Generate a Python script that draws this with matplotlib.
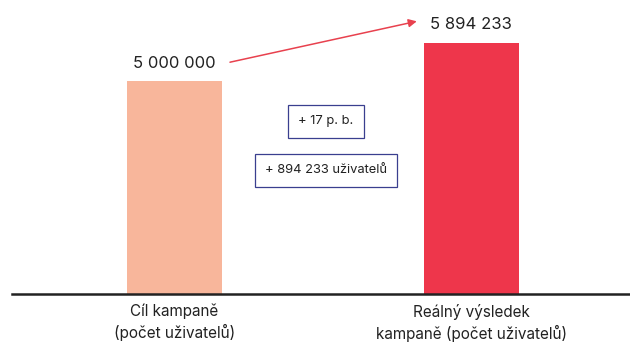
import matplotlib.pyplot as plt

categories = ['Cíl kampaně\n(počet uživatelů)', 'Reálný výsledek\nkampaně (počet uživatelů)']
values = [5000000, 5894233]
value_labels = ['5 000 000', '5 894 233']
diff_labels = ['+ 17 p. b.', '+ 894 233 uživatelů']
colors = ['#f8b69b', '#ee364b']

plt.rcParams['font.family'] = ['Inter', 'DejaVu Sans']

fig = plt.figure(figsize=(6.3, 3.43), dpi=100)
ax = fig.add_axes([12 / 630, 49 / 343, 618 / 630, 294 / 343])

x = [0, 1]
ax.bar(x, values, width=0.32, color=colors)
ax.set_xlim(-0.547, 1.534)
ax.set_ylim(0, 6.9e6)

for s in ['top', 'right', 'left']:
    ax.spines[s].set_visible(False)
ax.spines['bottom'].set_linewidth(1.8)
ax.spines['bottom'].set_color('#222222')
ax.set_yticks([])
ax.set_xticks(x)
ax.set_xticklabels(categories, fontsize=11, color='#222222', linespacing=1.35)
ax.tick_params(axis='x', length=0, pad=7)

# value labels above the bars
offsets = [0.4e6, 0.43e6]
for xi, v, lbl, off in zip(x, values, value_labels, offsets):
    ax.text(xi, v + off, lbl, ha='center', va='center', fontsize=12, color='#222222')

# arrow from goal label to the real result
ax.annotate('', xy=(0.816, 6.4e6), xytext=(0.187, 5.44e6),
            arrowprops=dict(arrowstyle='-|>', color='#e8414e', lw=1.1,
                            mutation_scale=12, shrinkA=0, shrinkB=0))

# difference boxes
box = dict(boxstyle='square,pad=0.8', fc='white', ec='#3a3f8f', lw=0.9)
ax.text(0.51, 4.05e6, diff_labels[0], ha='center', va='center', fontsize=9.3,
        color='#222222', bbox=box)
ax.text(0.51, 2.9e6, diff_labels[1], ha='center', va='center', fontsize=9.3,
        color='#222222', bbox=box)

fig.savefig('out.png', dpi=100)
